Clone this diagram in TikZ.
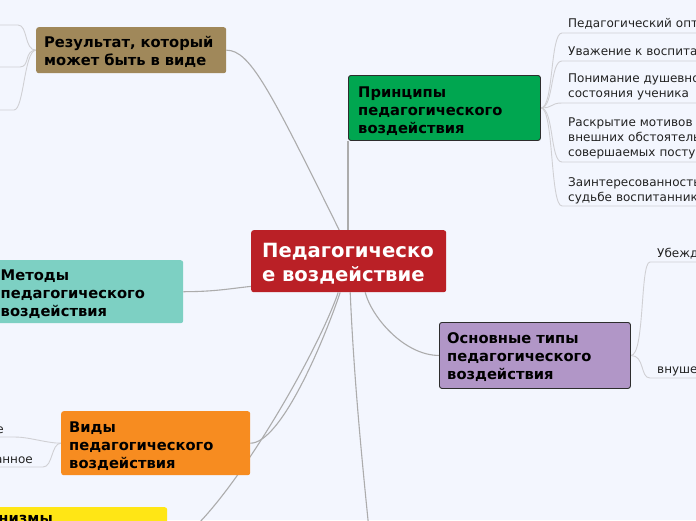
\documentclass[tikz,border=0pt]{standalone}
\usepackage{fontspec}
\setmainfont{DejaVu Sans}
\usetikzlibrary{calc}
\definecolor{bgc}{RGB}{243,246,254}
\definecolor{cred}{RGB}{186,32,38}
\definecolor{cgreen}{RGB}{0,166,80}
\definecolor{cbrown}{RGB}{160,136,90}
\definecolor{cteal}{RGB}{125,208,195}
\definecolor{corange}{RGB}{247,140,32}
\definecolor{cpurple}{RGB}{177,150,199}
\definecolor{cyellow}{RGB}{255,230,21}
\definecolor{cline}{RGB}{172,172,172}
\definecolor{csub}{RGB}{208,208,212}
\definecolor{ctext}{RGB}{34,34,34}
\definecolor{cborder}{RGB}{45,45,45}
\pgfdeclarelayer{bglayer}
\pgfsetlayers{bglayer,main}
\tikzset{
  box/.style={rectangle, rounded corners=2.5pt, anchor=north west, inner sep=0pt},
  boxlbl/.style={anchor=base west, inner sep=0pt, text width=185pt, align=left,
    font=\bfseries\fontsize{14.7}{18}\selectfont, text=black},
  sublbl/.style={anchor=base west, inner sep=0pt, text width=200pt, align=left,
    font=\fontsize{12}{15}\selectfont, text=ctext},
  sidelbl/.style={anchor=base east, inner sep=0pt, font=\fontsize{12}{15}\selectfont, text=ctext},
  conn/.style={draw=cline, line width=1.1pt},
  subconn/.style={draw=csub, line width=0.9pt},
}
\begin{document}
\begin{tikzpicture}[x=1pt,y=-1pt]
\useasboundingbox (0,0) rectangle (696,520);
\clip (0,0) rectangle (696,520);

% central node
\node[box, fill=cred, minimum width=195pt, minimum height=62pt] (c) at (251,230) {};
\node[boxlbl, text=white, font=\bfseries\fontsize{19.6}{24}\selectfont] (cT) at (262,257) {Педагогическо\\е воздействие};

% main topic boxes
\node[box, fill=cbrown, minimum width=190pt, minimum height=46pt] (res) at (36,27) {};
\node[boxlbl] (resT) at (44,47) {Результат, который\\может быть в виде};

\node[box, fill=cgreen, draw=cborder, line width=0.9pt, minimum width=192pt, minimum height=65pt] (prin) at (348,75) {};
\node[boxlbl] (prinT) at (358,97) {Принципы\\педагогического\\воздействия};

\node[box, fill=cteal, minimum width=191pt, minimum height=63pt] (met) at (-8,260) {};
\node[boxlbl] (metT) at (0.5,280) {Методы\\педагогического\\воздействия};

\node[box, fill=cpurple, draw=cborder, line width=0.9pt, minimum width=191pt, minimum height=66pt] (osn) at (439,322) {};
\node[boxlbl] (osnT) at (447,343) {Основные типы\\педагогического\\воздействия};

\node[box, fill=corange, minimum width=189pt, minimum height=64pt] (vid) at (61,411) {};
\node[boxlbl] (vidT) at (69,432) {Виды\\педагогического\\воздействия};

\node[box, fill=cyellow, minimum width=217pt, minimum height=80pt] (yel) at (-50,507) {};
\node[anchor=base east, inner sep=0pt, font=\bfseries\fontsize{14.7}{18}\selectfont] (yelT) at (53,523) {Механизмы};

% sub-topic labels
\node[sublbl] (p1) at (568,27) {Педагогический оптимизм};
\node[sublbl] (p2) at (568,55) {Уважение к воспитаннику};
\node[sublbl] (p3) at (568,82) {Понимание душевного\\состояния ученика};
\node[sublbl] (p4) at (568,126) {Раскрытие мотивов и\\внешних обстоятельств\\совершаемых поступков};
\node[sublbl] (p5) at (568,186) {Заинтересованность в\\судьбе воспитанника};

\node[sublbl] (o1) at (657,257) {Убеждение};
\node[sublbl] (o2) at (657,373) {внушение};

\node[sidelbl] (v1) at (4,433) {Прямое};
\node[sidelbl] (v2) at (33,463) {Опосредованное};

\coordinate (r1) at (18,25);
\coordinate (r2) at (20,67);
\coordinate (r3) at (14,110);
\coordinate (bend) at (369,530);

\begin{pgfonlayer}{bglayer}
\fill[bgc] (0,0) rectangle (696,520);
% main connectors
\draw[conn] (res.east) .. controls (250,50) and (270,90) .. ($(c.north)+(-9.5,0)$);
\draw[conn] (prin.south west) -- (prin.south west |- c.north);
\draw[conn] (met.east) .. controls +(32,0) and +(-20,2) .. ($(c.south west)+(0,-6)$);
\draw[conn] (osn.west) .. controls +(-34,0) and +(7,26) .. ($(c.south)+(16.5,0)$);
\draw[conn] (vid.east) .. controls +(30,0) and +(-18,53) .. ($(c.south)+(-8.5,0)$);
\draw[conn] (yel.east) .. controls (215,530) and (315,360) .. ($(c.south)+(-10.5,0)$);
\draw[conn] ($(c.south)+(1.5,0)$) .. controls (354,380) and (362,460) .. (bend);
% principle children
\draw[subconn] (prin.east) .. controls +(13,0) and +(-12,0) .. ($(p1.base west)+(-6,6)$) -- ++(160,0);
\draw[subconn] (prin.east) .. controls +(13,0) and +(-12,0) .. ($(p2.base west)+(-6,6)$) -- ++(160,0);
\draw[subconn] (prin.east) .. controls +(13,0) and +(-12,0) .. ($(p3.base west)+(-6,21)$) -- ++(160,0);
\draw[subconn] (prin.east) .. controls +(13,0) and +(-12,0) .. ($(p4.base west)+(-6,36)$) -- ++(160,0);
\draw[subconn] (prin.east) .. controls +(13,0) and +(-12,0) .. ($(p5.base west)+(-6,20)$) -- ++(160,0);
% osnovnye children
\draw[subconn] (osn.east) .. controls +(14,0) and +(-10,0) .. ($(o1.base west)+(-7,5)$) -- ++(60,0);
\draw[subconn] (osn.east) .. controls +(14,0) and +(-10,0) .. ($(o2.base west)+(-7,5)$) -- ++(60,0);
% result children
\draw[subconn] (res.west) .. controls +(-12,0) and +(10,0) .. (r1) -- ++(-40,0);
\draw[subconn] (res.west) .. controls +(-12,0) and +(10,0) .. (r2) -- ++(-40,0);
\draw[subconn] (res.west) .. controls +(-12,0) and +(10,0) .. (r3) -- ++(-40,0);
% vidy children
\draw[subconn] (vid.west) .. controls +(-14,0) and +(14,0) .. ($(v1.base east)+(11,4)$) -- ++(-80,0);
\draw[subconn] (vid.west) .. controls +(-10,0) and +(10,0) .. ($(v2.base east)+(10,4)$) -- ++(-120,0);
\end{pgfonlayer}
\end{tikzpicture}
\end{document}
